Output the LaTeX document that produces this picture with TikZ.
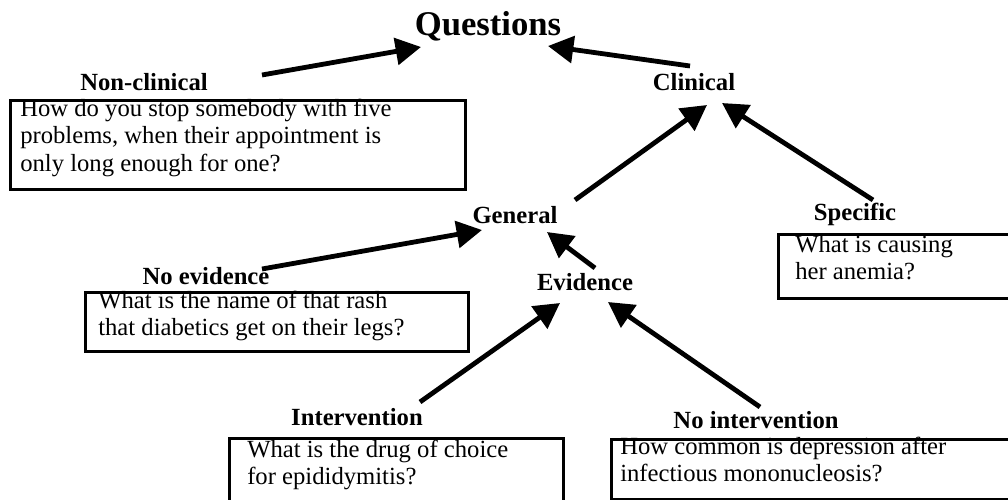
\documentclass[tikz,border=0pt]{standalone}
\usepackage{fontspec}
\setmainfont{Liberation Serif}
\usetikzlibrary{arrows.meta}
\begin{document}
\begin{tikzpicture}[x=0.75pt,y=-0.75pt,
  lbl/.style={font=\fontsize{18.5}{20.5}\selectfont\bfseries, inner sep=0pt, anchor=base},
  qbox/.style={draw, line width=2pt, anchor=north west, inner sep=0pt},
  qtext/.style={font=\fontsize{18.5}{20.5}\selectfont, align=left, anchor=north west, inner sep=0pt},
  arr/.style={line width=3.6pt, -{Triangle[length=19pt,width=20pt]}}]
\useasboundingbox (0,0) rectangle (1008,500);

% labels
\node[lbl, font=\fontsize{26}{30}\selectfont\bfseries] (q) at (488,35) {Questions};
\node[lbl] (noncl) at (144,90) {Non-clinical};
\node[lbl] (clin) at (694,90) {Clinical};
\node[lbl] (gen) at (515,223) {General};
\node[lbl] (spec) at (855,220) {Specific};
\node[lbl] (noev) at (206,284) {No evidence};
\node[lbl] (ev) at (585,290) {Evidence};
\node[lbl] (interv) at (357,425) {Intervention};
\node[lbl] (nointerv) at (756,428) {No intervention};

% boxes
\node[qbox, minimum width=341.25pt, minimum height=66.75pt] (b1) at (9,99) {};
\node[qbox, minimum width=180pt, minimum height=48pt] (b2) at (777,233) {};
\node[qbox, minimum width=287.25pt, minimum height=44.25pt] (b3) at (84,291) {};
\node[qbox, minimum width=250.5pt, minimum height=51pt] (b4) at (228,437) {};
\node[qbox, minimum width=303.75pt, minimum height=45pt] (b5) at (610,438) {};

% texts
\node[qtext] (t1) at (20,97) {\strut How do you stop somebody with five\\problems, when their appointment is\\only long enough for one?};
\node[qtext] (t2) at (795,233) {\strut What is causing\\her anemia?};
\node[qtext] (t3) at (98,289) {\strut What is the name of that rash\\that diabetics get on their legs?};
\node[qtext] (t4) at (247,438) {\strut What is the drug of choice\\for epididymitis?};
\node[qtext] (t5) at (620,435) {\strut How common is depression after\\infectious mononucleosis?};

% connector ends
\coordinate (s1) at (262,75);  \coordinate (e1) at (421,47);
\coordinate (s2) at (690,66);  \coordinate (e2) at (548,46);
\coordinate (s3) at (575,200); \coordinate (e3) at (707,105);
\coordinate (s4) at (873,200); \coordinate (e4) at (722,103);
\coordinate (s5) at (262,269); \coordinate (e5) at (482,230);
\coordinate (s6) at (595,268); \coordinate (e6) at (547,232);
\coordinate (s7) at (420,402); \coordinate (e7) at (560,303);
\coordinate (s8) at (760,407); \coordinate (e8) at (608,302);

\draw[arr] (s1) -- (e1);
\draw[arr] (s2) -- (e2);
\draw[arr] (s3) -- (e3);
\draw[arr] (s4) -- (e4);
\draw[arr] (s5) -- (e5);
\draw[arr] (s6) -- (e6);
\draw[arr] (s7) -- (e7);
\draw[arr] (s8) -- (e8);
\end{tikzpicture}
\end{document}
